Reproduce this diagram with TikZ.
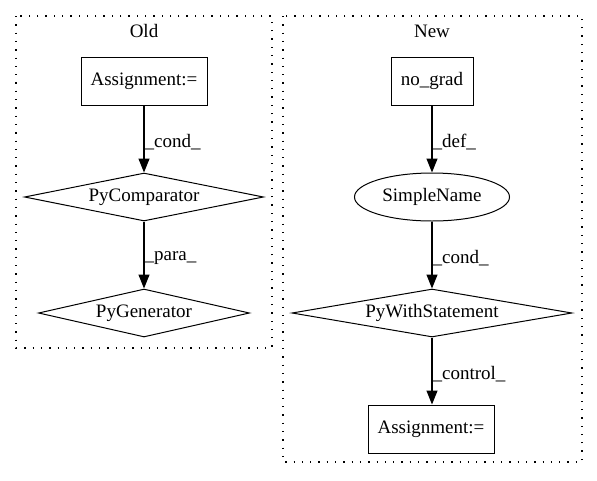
\documentclass[tikz,border=0pt]{standalone}
\usepackage{fontspec}
\setmainfont{Liberation Serif}
\usetikzlibrary{shapes.geometric,arrows.meta}
\begin{document}
\begin{tikzpicture}[x=1pt,y=-1pt,
  lbl/.style={font=\fontsize{19}{22}\selectfont},
  rectbox/.style={draw, rectangle, minimum height=48pt, inner sep=0pt, line width=1pt, lbl},
  diam/.style={draw, diamond, aspect=5, minimum height=48pt, inner sep=0pt, line width=1pt, lbl},
  ell/.style={draw, ellipse, minimum height=48pt, inner sep=0pt, line width=1pt, lbl},
  cluster/.style={line width=1.2pt, dash pattern=on 1.3pt off 7pt},
  edge/.style={line width=1.2pt, -{Triangle[length=14pt,width=11pt]}},
  elbl/.style={lbl, anchor=west, inner sep=0pt, yshift=-3pt}
]
\useasboundingbox (0,0) rectangle (597,480);
% clusters
\draw[cluster] (16,16) rectangle (272,348);
\node[lbl] (told) at (144,31) {Old};
\draw[cluster] (283,16) rectangle (582,462);
\node[lbl] (tnew) at (432,31) {New};
% Old
\node[rectbox, minimum width=126pt] (asg1) at (144,81) {Assignment:=};
\node[diam, minimum width=239pt] (cmp) at (144,197) {PyComparator};
\node[diam, minimum width=211pt] (gen) at (144,313) {PyGenerator};
% New
\node[rectbox, minimum width=82pt] (ng) at (432,81) {no\_grad};
\node[ell, minimum width=155pt] (sn) at (432,197) {SimpleName};
\node[diam, minimum width=280pt] (pws) at (432,313) {PyWithStatement};
\node[rectbox, minimum width=126pt] (asg2) at (431,429) {Assignment:=};
% edges
\draw[edge] (asg1.south) -- node[elbl] {\_cond\_} (cmp.north);
\draw[edge] (cmp.south) -- node[elbl] {\_para\_} (gen.north);
\draw[edge] (ng.south) -- node[elbl] {\_def\_} (sn.north);
\draw[edge] (sn.south) -- node[elbl] {\_cond\_} (pws.north);
\draw[edge] (pws.south) -- node[elbl] {\_control\_} (asg2.north -| pws.south);
\end{tikzpicture}
\end{document}
